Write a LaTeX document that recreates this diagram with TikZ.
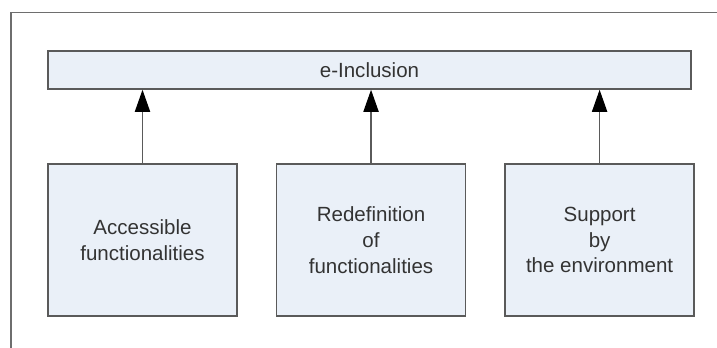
\documentclass[tikz,border=0pt]{standalone}
\usepackage{fontspec}
\setmainfont{Liberation Sans}
\usetikzlibrary{positioning, arrows.meta}
\definecolor{PaleSky}{HTML}{EAF0F8}
\definecolor{SlateEdge}{HTML}{5A5A5A}
\definecolor{InkGray}{HTML}{333333}
\definecolor{FrameGray}{HTML}{6E6E6E}

\tikzset{
    pillar/.style={draw=SlateEdge, fill=PaleSky, line width=1.1pt, minimum width=4.725cm, minimum height=3.8cm,
        text=InkGray, align=center, font=\fontsize{14.6}{18.4}\selectfont},
    roofbar/.style={draw=SlateEdge, fill=PaleSky, line width=1.1pt, minimum width=16.075cm, minimum height=0.95cm,
        text=InkGray, font=\fontsize{14.6}{18.4}\selectfont},
    liftarrow/.style={draw=SlateEdge, line width=0.8pt, -{Triangle[length=0.55cm, width=0.38cm, color=black]}}
}

\begin{document}
\begin{tikzpicture}
        \useasboundingbox (0,0) rectangle (17.925,8.675);
        \fill[white] (0,0) rectangle (17.925,8.675);

        % Frame
        \draw[FrameGray, line width=1.1pt] (0.275,-0.1) -- (0.275,8.3625) -- (18.0,8.3625);

        \node[roofbar] (inclusion) at (9.2375,6.925) {e-Inclusion};

        \node[pillar] (access) at (3.5625,2.675) {Accessible\\functionalities};
        \node[pillar, right=0.95cm of access] (redefine) {Redefinition\\of\\functionalities};
        \node[pillar, right=0.95cm of redefine] (support) {Support\\by\\the environment};

        % Arrows up to the bar
        \draw[liftarrow] (access.north) -- (access.north |- inclusion.south);
        \draw[liftarrow] (redefine.north) -- (redefine.north |- inclusion.south);
        \draw[liftarrow] (support.north) -- (support.north |- inclusion.south);
    \end{tikzpicture}
\end{document}
